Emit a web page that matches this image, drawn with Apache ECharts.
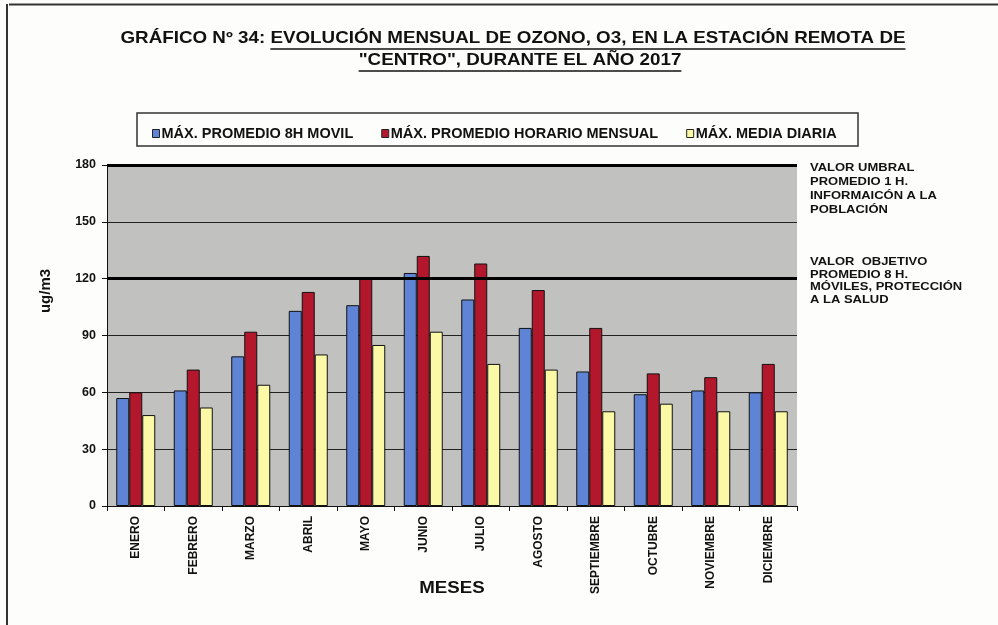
<!DOCTYPE html>
<html>
<head>
<meta charset="utf-8">
<script src="https://cdn.jsdelivr.net/npm/echarts@6/dist/echarts.min.js"></script>
<style>
html,body{margin:0;padding:0;background:#fdfdfb;}
#c{width:998px;height:625px;}
</style>
</head>
<body>
<div id="c"></div>
<script>
const months = ['ENERO','FEBRERO','MARZO','ABRIL','MAYO','JUNIO','JULIO','AGOSTO','SEPTIEMBRE','OCTUBRE','NOVIEMBRE','DICIEMBRE'];
const seriesNames = ['MÁX. PROMEDIO 8H MOVIL','MÁX. PROMEDIO HORARIO MENSUAL','MÁX. MEDIA DIARIA'];
const max8hMovil = [57, 61, 79, 103, 106, 123, 109, 94, 71, 59, 61, 60];
const maxHorario = [60, 72, 92, 113, 120, 132, 128, 114, 94, 70, 68, 75];
const maxMediaDiaria = [48, 52, 64, 80, 85, 92, 75, 72, 50, 54, 50, 50];
const thresholds = [180, 120];
const yTicks = [0, 30, 60, 90, 120, 150, 180];

const FONT = '"Liberation Sans", Arial, sans-serif';
const colors = ['#5f84d6', '#b3172c', '#fbf9a6'];

function textWidth(txt, size) {
  const c = document.createElement('canvas').getContext('2d');
  c.font = 'bold ' + size + 'px ' + FONT;
  return c.measureText(txt).width;
}

const t1a = 'GRÁFICO Nº 34: ';
const t1b = 'EVOLUCIÓN MENSUAL DE OZONO, O3, EN LA ESTACIÓN REMOTA DE';
const t2 = '"CENTRO", DURANTE EL AÑO 2017';
const titleSize = 16.5;
const titleScale = 785 / (textWidth(t1a + t1b, titleSize));
const w1a = textWidth(t1a, titleSize) * titleScale;
const w1b = textWidth(t1b, titleSize) * titleScale;
const w2 = textWidth(t2, titleSize) * titleScale;
const t1x = 513 - (w1a + w1b) / 2;
const t2x = 520 - w2 / 2;
const tFont = 'bold ' + titleSize + 'px ' + FONT;

const chart = echarts.init(document.getElementById('c'));
const barBase = {
  type: 'bar',
  barWidth: 13,
  barGap: '0%',
  itemStyle: { borderColor: '#111', borderWidth: 1 }
};
const option = {
  backgroundColor: '#fdfdfb',
  animation: false,
  textStyle: { fontFamily: FONT },
  grid: { left: 107, right: 201, top: 165, bottom: 119, show: true, backgroundColor: '#c1c1bf', borderWidth: 0 },
  legend: {
    left: 147, top: 121, itemWidth: 7, itemHeight: 8, itemGap: 28,
    icon: 'rect',
    textStyle: { fontFamily: FONT, fontWeight: 'bold', fontSize: 14.5, color: '#111', padding: [0, 0, 0, -3] },
    itemStyle: { borderColor: '#222', borderWidth: 1 },
    data: seriesNames
  },
  xAxis: {
    type: 'category', data: months,
    axisLine: { lineStyle: { color: '#111', width: 1 } },
    axisTick: { show: true, length: 5, lineStyle: { color: '#111' } },
    axisLabel: { rotate: 90, fontFamily: FONT, fontWeight: 'bold', fontSize: 12, color: '#111', margin: 10 }
  },
  yAxis: {
    type: 'value', min: 0, max: 180, interval: 30,
    axisLine: { show: true, lineStyle: { color: '#111', width: 1 } },
    axisTick: { show: true, length: 5, lineStyle: { color: '#111' } },
    axisLabel: { fontFamily: FONT, fontWeight: 'bold', fontSize: 12.5, color: '#111', margin: 11,
      formatter: v => yTicks.includes(v) ? String(v) : '' },
    splitLine: { show: true, lineStyle: { color: '#222', width: 1 } }
  },
  series: [
    Object.assign({}, barBase, { name: seriesNames[0], data: max8hMovil, itemStyle: Object.assign({}, barBase.itemStyle, { color: colors[0] }),
      markLine: { silent: true, symbol: 'none', label: { show: false },
        lineStyle: { color: '#000', width: 3, type: 'solid' },
        data: thresholds.map(v => ({ yAxis: v })) } }),
    Object.assign({}, barBase, { name: seriesNames[1], data: maxHorario, itemStyle: Object.assign({}, barBase.itemStyle, { color: colors[1] }) }),
    Object.assign({}, barBase, { name: seriesNames[2], data: maxMediaDiaria, itemStyle: Object.assign({}, barBase.itemStyle, { color: colors[2] }) })
  ],
  graphic: [
    { type: 'line', shape: { x1: 9, y1: 4.5, x2: 998, y2: 4.5 }, style: { stroke: '#333', lineWidth: 2 } },
    { type: 'line', shape: { x1: 7, y1: 4, x2: 7, y2: 625 }, style: { stroke: '#333', lineWidth: 2 } },
    { type: 'text', x: t1x, y: 38, scaleX: titleScale, style: { text: t1a, font: tFont, fill: '#111', verticalAlign: 'middle' } },
    { type: 'text', x: t1x + w1a, y: 38, scaleX: titleScale, style: { text: t1b, font: tFont, fill: '#111', verticalAlign: 'middle' } },
    { type: 'line', shape: { x1: t1x + w1a, y1: 49, x2: t1x + w1a + w1b, y2: 49 }, style: { stroke: '#111', lineWidth: 1.5 } },
    { type: 'text', x: t2x, y: 60, scaleX: titleScale, style: { text: t2, font: tFont, fill: '#111', verticalAlign: 'middle' } },
    { type: 'line', shape: { x1: t2x, y1: 71, x2: t2x + w2, y2: 71 }, style: { stroke: '#111', lineWidth: 1.5 } },
    { type: 'rect', shape: { x: 137, y: 113, width: 721, height: 33 }, style: { fill: 'none', stroke: '#333', lineWidth: 1.5 } },
    { type: 'text', x: 810, y: 161, scaleX: 1.18, style: { text: 'VALOR UMBRAL\nPROMEDIO 1 H.\nINFORMAICÓN A LA\nPOBLACIÓN', font: 'bold 11px ' + FONT, lineHeight: 14, fill: '#111' } },
    { type: 'text', x: 810, y: 256, scaleX: 1.18, style: { text: 'VALOR  OBJETIVO\nPROMEDIO 8 H.\nMÓVILES, PROTECCIÓN\nA LA SALUD', font: 'bold 11px ' + FONT, lineHeight: 12.5, fill: '#111' } },
    { type: 'text', x: 46, y: 291, rotation: Math.PI / 2, style: { text: 'ug/m3', font: 'bold 15px ' + FONT, fill: '#111', align: 'center', verticalAlign: 'middle' } },
    { type: 'text', x: 452, y: 588, scaleX: 1.1, style: { text: 'MESES', font: 'bold 17px ' + FONT, fill: '#111', align: 'center', verticalAlign: 'middle' } }
  ]
};
chart.setOption(option);
</script>
</body>
</html>
